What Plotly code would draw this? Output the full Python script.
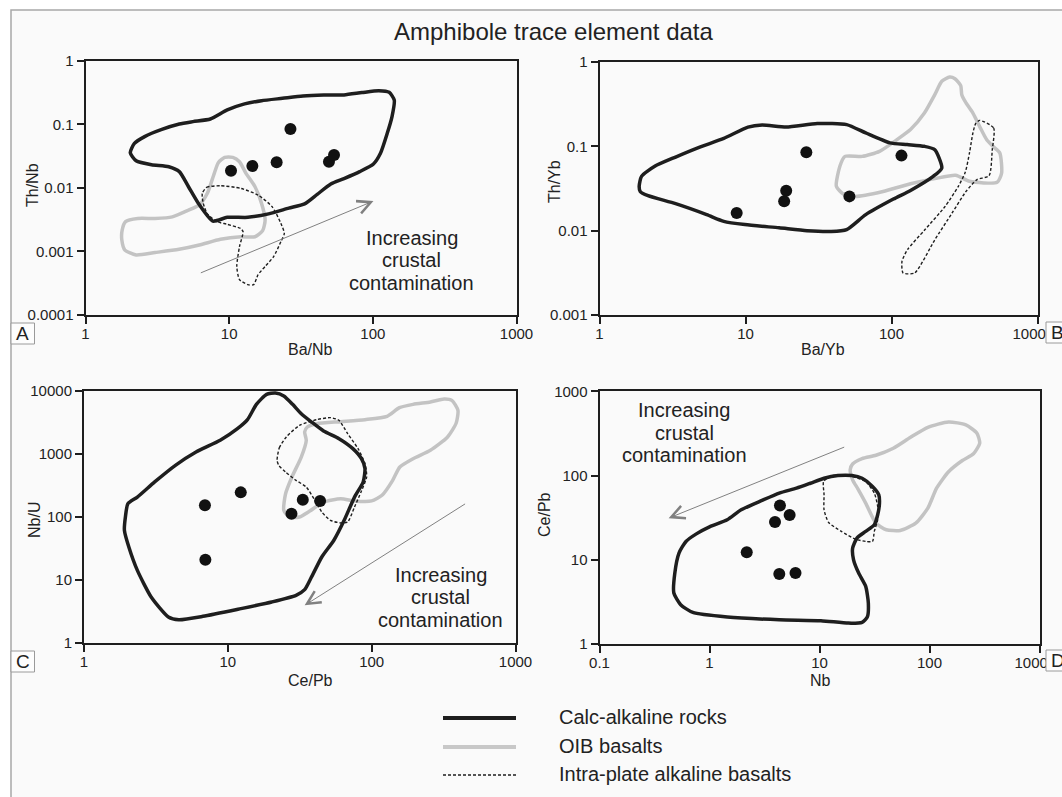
import numpy as np
import plotly.graph_objects as go

W, H = 1062, 797
FONT = "Liberation Sans, Arial, sans-serif"
TXT = "#222222"
BLACK = "#1e1e1e"
GREY = "#c3c3c3"

# ---------------- Panel A : Th/Nb vs Ba/Nb ----------------
A_pts_x = [10.3, 14.5, 21.4, 26.7, 49.5, 53.7]
A_pts_y = [0.0186, 0.022, 0.0252, 0.084, 0.0258, 0.0328]
A_calc_x = [2.05, 2.25, 2.88, 3.8, 4.5, 5.2, 6.2, 7.7, 9.7, 13.5, 18.8, 26, 33.5, 41, 51, 63, 81, 101,
            113, 126, 136, 141, 130, 110, 84, 63, 45.5, 32.6, 23.5, 16.8, 12.8, 9.7, 7.4, 5.6, 4.5, 3.4, 2.58, 2.19]
A_calc_y = [0.0357, 0.0267, 0.0231, 0.0215, 0.018, 0.0105, 0.0054, 0.003, 0.00344, 0.00344, 0.0039, 0.0048,
            0.0056, 0.0079, 0.0115, 0.014, 0.018, 0.0237, 0.0349, 0.072, 0.132, 0.24, 0.318, 0.337, 0.315,
            0.29, 0.288, 0.278, 0.256, 0.235, 0.209, 0.168, 0.121, 0.11, 0.101, 0.083, 0.064, 0.05]
A_oib_x = [2.31, 1.9, 1.8, 1.79, 1.88, 2.25, 3.05, 4.48, 6.2, 8.7, 12.1, 15.1, 17.1, 17.8, 16.8, 15.1,
           13.1, 11.8, 10.6, 9.3, 8.4, 7.8, 7.05, 6.2, 5.15, 4.02, 3.05]
A_oib_y = [0.0033, 0.00294, 0.00217, 0.00151, 0.00105, 0.00088, 0.00096, 0.00108, 0.00126, 0.00155,
           0.0017, 0.0017, 0.00212, 0.00312, 0.0057, 0.0105, 0.0169, 0.0258, 0.0302, 0.0302, 0.0249,
           0.0158, 0.0082, 0.0054, 0.0044, 0.0035, 0.0033]
A_ipa_x = [6.5, 6.97, 8.7, 12.1, 15.9, 19.9, 22.9, 24.2, 22.9, 20.4, 17.8, 15.9, 14.8, 13.5, 11.8, 11.3,
           11.8, 12.5, 12.0, 9.7, 8.2, 7.05, 6.6]
A_ipa_y = [0.0082, 0.0102, 0.0108, 0.0098, 0.0077, 0.00506, 0.00277, 0.00192, 0.00142, 0.00083, 0.00058,
           0.00043, 0.0003, 0.0003, 0.00036, 0.00058, 0.00119, 0.00204, 0.0023, 0.00267, 0.00294, 0.0039,
           0.0057]
A_arrow = [(6.2, 0.00045), (101, 0.0062)]
A_text = (186, 0.00073)

# ---------------- Panel B : Th/Yb vs Ba/Yb ----------------
B_pts_x = [8.7, 18.4, 19.0, 26.1, 51.5, 117]
B_pts_y = [0.0162, 0.0223, 0.0298, 0.085, 0.0255, 0.0776]
B_calc_x = [1.87, 1.94, 2.39, 3.32, 4.86, 7.1, 10.4, 13.0, 19.0, 31.0, 49.3, 66.6, 97.5, 128, 168, 198,
            221, 193, 135, 103, 66.6, 49.3, 38.6, 26.4, 17.0, 9.9, 7.1, 5.42, 3.32, 2.15, 1.9]
B_calc_y = [0.0336, 0.044, 0.058, 0.0747, 0.098, 0.124, 0.169, 0.179, 0.169, 0.186, 0.181, 0.144, 0.11,
            0.105, 0.1, 0.0912, 0.0553, 0.044, 0.03, 0.0237, 0.0155, 0.0103, 0.0098, 0.01, 0.0108, 0.0118,
            0.0129, 0.0155, 0.0209, 0.026, 0.0292]
B_oib_x = [56.5, 87.5, 135, 198, 275, 342, 529, 568, 552, 501, 449, 414, 361, 324, 303, 298, 272, 250,
           221, 198, 168, 135, 109, 82.8, 63, 48, 44.3, 41.9, 46.7]
B_oib_y = [0.0255, 0.0292, 0.036, 0.0414, 0.0453, 0.0385, 0.0374, 0.0483, 0.0834, 0.098, 0.12, 0.155,
           0.248, 0.327, 0.41, 0.524, 0.634, 0.664, 0.59, 0.41, 0.248, 0.158, 0.12, 0.0873, 0.076, 0.076,
           0.058, 0.0336, 0.0272]
B_ipa_x = [402, 501, 490, 466, 385, 324, 260, 198, 144, 120, 118, 129, 168, 233, 287, 320, 342, 361, 377]
B_ipa_y = [0.203, 0.165, 0.0912, 0.0449, 0.0403, 0.0292, 0.0162, 0.0078, 0.00315, 0.00315, 0.00433,
           0.006, 0.0101, 0.0194, 0.0336, 0.0492, 0.0834, 0.144, 0.186]

# ---------------- Panel C : Nb/U vs Ce/Pb ----------------
C_pts_x = [6.93, 12.3, 6.98, 27.7, 33.2, 43.8]
C_pts_y = [153, 246, 21.0, 113, 188, 180]
C_calc_x = [2.02, 1.94, 1.91, 2.05, 2.35, 2.93, 3.86, 4.56, 6.71, 12.3, 20.2, 29.8, 34.2, 38.2, 45, 54.6,
            64.4, 76, 87.3, 89.8, 84.9, 74, 59.3, 46.3, 38.2, 32.4, 28.2, 24.5, 21.4, 18.6, 15.8, 13.7,
            11.6, 8.85, 6.01, 4.32, 3.1, 2.35]
C_calc_y = [163, 100, 61.4, 33.4, 14.2, 5.37, 2.59, 2.34, 2.65, 3.51, 4.48, 5.71, 7.03, 11.2, 23.2, 42.7,
            88.5, 207, 360, 585, 843, 1216, 1750, 2317, 3220, 4365, 6140, 8340, 9290, 8850, 6140, 3510,
            2495, 1650, 1076, 661, 360, 207]
C_oib_x = [31.5, 37.1, 46.3, 61, 76, 100, 118, 140, 157, 194, 256, 337, 387, 398, 361, 319, 256, 194,
           156, 128, 89.8, 61, 41.5, 35.7, 34.2, 35.1, 32.4, 27.9, 25.2, 24.5, 26.7]
C_oib_y = [100, 124, 173, 195, 180, 180, 221, 382, 622, 843, 1143, 1862, 3105, 4930, 7110, 7460, 6690,
           6140, 5430, 3960, 3510, 3260, 3030, 2685, 2235, 1650, 895, 432, 234, 128, 100]
C_ipa_x = [22, 22.8, 25.5, 31.5, 41.5, 51.7, 59.3, 68.1, 80.4, 89.8, 92.3, 84.9, 76, 68.1, 61, 51.7, 45,
           40.3, 35.1, 29.8, 25.2, 22.6]
C_ipa_y = [794, 1260, 1862, 2850, 3510, 3775, 3420, 2104, 1216, 703, 432, 259, 144, 83.4, 80.4, 88.5,
           120, 184, 299, 382, 518, 661]
C_arrow = [(457, 167), (34.2, 3.96)]
C_text = (302, 5.37)

# ---------------- Panel D : Ce/Pb vs Nb ----------------
D_pts_x = [4.37, 3.94, 5.35, 2.18, 4.31, 6.05]
D_pts_y = [44, 28, 33.9, 12.3, 6.76, 6.95]
D_calc_x = [0.611, 0.528, 0.484, 0.474, 0.547, 0.705, 1.45, 4.31, 10.3, 18.3, 24.4, 27.2, 27.8, 26.3,
            22.7, 20.4, 20, 21.9, 26.3, 31.5, 33.8, 35.1, 34.6, 30.3, 24.4, 19.7, 14.7, 11, 8.26, 6.18,
            4.31, 3.0, 1.94, 1.45, 1.01, 0.759]
D_calc_y = [16.5, 12, 6.95, 4.03, 2.93, 2.37, 2.09, 1.94, 1.89, 1.77, 1.81, 2.09, 3.06, 4.83, 6.95, 10,
            13.7, 18.1, 21.7, 26, 34.2, 47, 59, 74, 93, 100, 100, 93, 81, 70.8, 61.8, 50.6, 39.2, 29.8,
            24.8, 20.3]
D_oib_x = [20, 19, 20, 24.4, 32.6, 46.9, 67.3, 96.6, 149, 214, 270, 286, 251, 199, 149, 116, 96.6, 75,
           54.2, 40.5, 32.6, 26.3, 22.4]
D_oib_y = [89, 117, 137, 159, 174, 211, 285, 374, 433, 399, 318, 242, 181, 151, 111, 70.8, 41, 27.2,
           22.3, 22.7, 27.2, 47, 68.9]
D_ipa_x = [10.9, 13.2, 19.7, 26.3, 31.5, 33.8, 33.8, 31.5, 30.3, 26.3, 21.1, 15.8, 12.1, 11, 11]
D_ipa_y = [84.9, 100, 97.3, 84.9, 61.8, 42.9, 29.8, 21.7, 16.5, 16.5, 17.6, 21.7, 27.7, 39.2, 59]
D_arrow = [(17.3, 221), (0.425, 31.2)]
D_text = (0.589, 324)

TEXT_LINES = ["Increasing", "crustal", "contamination"]
LEGEND_NAMES = ["Calc-alkaline rocks", "OIB basalts", "Intra-plate alkaline basalts"]

X_TICKS_1_1000 = [1, 10, 100, 1000]
X_TICKS_01_1000 = [0.1, 1, 10, 100, 1000]
Y_TICKS_A = [0.0001, 0.001, 0.01, 0.1, 1]
Y_TICKS_B = [0.001, 0.01, 0.1, 1]
Y_TICKS_C = [1, 10, 100, 1000, 10000]
Y_TICKS_D = [1, 10, 100, 1000]


def px(x):
    return x / W


def py(y):
    return 1 - y / H


def lab(v):
    return ("%g" % v) if v >= 1 else ("%.10f" % v).rstrip("0")


fig = go.Figure()

panels = [
    ("x", "y", A_pts_x, A_pts_y, (A_calc_x, A_calc_y), (A_oib_x, A_oib_y), (A_ipa_x, A_ipa_y)),
    ("x2", "y2", B_pts_x, B_pts_y, (B_calc_x, B_calc_y), (B_oib_x, B_oib_y), (B_ipa_x, B_ipa_y)),
    ("x3", "y3", C_pts_x, C_pts_y, (C_calc_x, C_calc_y), (C_oib_x, C_oib_y), (C_ipa_x, C_ipa_y)),
    ("x4", "y4", D_pts_x, D_pts_y, (D_calc_x, D_calc_y), (D_oib_x, D_oib_y), (D_ipa_x, D_ipa_y)),
]

for xa, ya, ptx, pty, calc, oib, ipa in panels:
    for (xs, ys), col, wid, dash in [(oib, GREY, 3.5, "solid"), (calc, BLACK, 3.5, "solid"),
                                      (ipa, BLACK, 1.4, "3px,2px")]:
        fig.add_trace(go.Scatter(
            x=list(xs) + [xs[0]], y=list(ys) + [ys[0]], mode="lines",
            line=dict(color=col, width=wid, dash=dash, shape="spline", smoothing=0.6),
            xaxis=xa, yaxis=ya, showlegend=False, hoverinfo="skip"))
    fig.add_trace(go.Scatter(
        x=ptx, y=pty, mode="markers", marker=dict(color="#111111", size=12, line=dict(width=0)),
        xaxis=xa, yaxis=ya, showlegend=False, hoverinfo="skip"))


def axis(domain, tickvals, anchor, rng, is_x, edge_pad=False):
    texts = [lab(v) for v in tickvals]
    if edge_pad:
        # last label sits against the panel-letter box, as in the original figure
        texts[-1] = texts[-1] + "\u00a0" * 4
    d = dict(type="log", domain=domain, anchor=anchor, range=rng, automargin=False,
             showline=True, linecolor=BLACK, linewidth=2, mirror=True,
             ticks="outside", ticklen=7, tickwidth=1.5, tickcolor=BLACK,
             tickvals=tickvals, ticktext=texts, ticklabeloverflow="allow",
             showgrid=False, zeroline=False,
             tickfont=dict(size=15, color=TXT, family=FONT))
    if is_x:
        d["ticklabelstandoff"] = -3
    return d


dom = {
    "A": ([px(85.5), px(516.5)], [py(315), py(60.7)]),
    "B": ([px(599.5), px(1037.5)], [py(315), py(62)]),
    "C": ([px(84), px(515.5)], [py(643), py(391)]),
    "D": ([px(599.5), px(1039.5)], [py(644), py(391.3)]),
}

layout = dict(
    template="none",
    width=W, height=H, margin=dict(l=0, r=0, t=0, b=0, pad=0, autoexpand=False),
    paper_bgcolor="white", plot_bgcolor="rgba(0,0,0,0)",
    font=dict(family=FONT, color=TXT),
    xaxis=axis(dom["A"][0], X_TICKS_1_1000, "y", [0, 3], True),
    yaxis=axis(dom["A"][1], Y_TICKS_A, "x", [-4, 0], False),
    xaxis2=axis(dom["B"][0], X_TICKS_1_1000, "y2", [0, 3], True, edge_pad=True),
    yaxis2=axis(dom["B"][1], Y_TICKS_B, "x2", [-3, 0], False),
    xaxis3=axis(dom["C"][0], X_TICKS_1_1000, "y3", [0, 3], True),
    yaxis3=axis(dom["C"][1], Y_TICKS_C, "x3", [0, 4], False),
    xaxis4=axis(dom["D"][0], X_TICKS_01_1000, "y4", [-1, 3], True, edge_pad=True),
    yaxis4=axis(dom["D"][1], Y_TICKS_D, "x4", [0, 3], False),
)
fig.update_layout(**layout)

shapes = []
annotations = []

# outer frame / background
shapes.append(dict(type="rect", xref="paper", yref="paper", x0=px(11), x1=px(1080), y0=py(815), y1=py(10),
                   fillcolor="#fafafa", line=dict(color="#a8a8a8", width=1.5), layer="below"))

# title
annotations.append(dict(xref="paper", yref="paper", x=px(554), y=py(32), xanchor="center", yanchor="middle",
                        text="Amphibole trace element data", showarrow=False,
                        font=dict(size=24, color=TXT, family=FONT)))

# axis titles
for t, x, y, ang in [("Ba/Nb", 310, 349, 0), ("Ba/Yb", 823, 349, 0), ("Ce/Pb", 310, 680, 0), ("Nb", 820, 680, 0),
                     ("Th/Nb", 32, 185, -90), ("Th/Yb", 555, 182, -90), ("Nb/U", 34, 520, -90),
                     ("Ce/Pb", 544, 515, -90)]:
    annotations.append(dict(xref="paper", yref="paper", x=px(x), y=py(y), xanchor="center", yanchor="middle",
                            text=t, showarrow=False, textangle=ang,
                            font=dict(size=16, color=TXT, family=FONT)))

# panel letters
for t, x0, y0 in [("A", 11, 323), ("B", 1046, 322), ("C", 11, 651), ("D", 1046, 650)]:
    shapes.append(dict(type="rect", xref="paper", yref="paper", x0=px(x0), x1=px(x0 + 23.5),
                       y0=py(y0 + 21), y1=py(y0), fillcolor="#fdfdfd", line=dict(color="#9a9a9a", width=1)))
    annotations.append(dict(xref="paper", yref="paper", x=px(x0 + 11.75), y=py(y0 + 10.5), text=t,
                            xanchor="center", yanchor="middle",
                            showarrow=False, font=dict(size=19, color=TXT, family=FONT)))

# arrows
for (tail, head), xr, yr in [(A_arrow, "x", "y"), (C_arrow, "x3", "y3"), (D_arrow, "x4", "y4")]:
    annotations.append(dict(xref=xr, yref=yr, axref=xr, ayref=yr,
                            x=np.log10(head[0]), y=np.log10(head[1]),
                            ax=np.log10(tail[0]), ay=np.log10(tail[1]),
                            showarrow=True, arrowhead=5, arrowsize=2.6, arrowwidth=1,
                            arrowcolor="#808080", text="", standoff=0))

# arrow labels
for (tx, ty), xr, yr in [(A_text, "x", "y"), (C_text, "x3", "y3"), (D_text, "x4", "y4")]:
    for i, line in enumerate(TEXT_LINES):
        annotations.append(dict(xref=xr, yref=yr, x=np.log10(tx), y=np.log10(ty), text=line,
                                xanchor="center", yanchor="middle",
                                showarrow=False, yshift=(1 - i) * 22.5,
                                font=dict(size=20, color=TXT, family=FONT)))

# legend
for name, y, col, wid, dash in [(LEGEND_NAMES[0], 718, BLACK, 4, "solid"),
                                 (LEGEND_NAMES[1], 747, "#c8c8c8", 4, "solid"),
                                 (LEGEND_NAMES[2], 775, BLACK, 1.4, "3px,2px")]:
    shapes.append(dict(type="line", xref="paper", yref="paper", x0=px(443), x1=px(516), y0=py(y), y1=py(y),
                       line=dict(color=col, width=wid, dash=dash)))
    annotations.append(dict(xref="paper", yref="paper", x=px(557), y=py(y - 1), text=name,
                            xanchor="left", yanchor="middle",
                            showarrow=False, font=dict(size=20, color=TXT, family=FONT)))

fig.update_layout(shapes=shapes, annotations=annotations)
fig.write_html("out.html")
